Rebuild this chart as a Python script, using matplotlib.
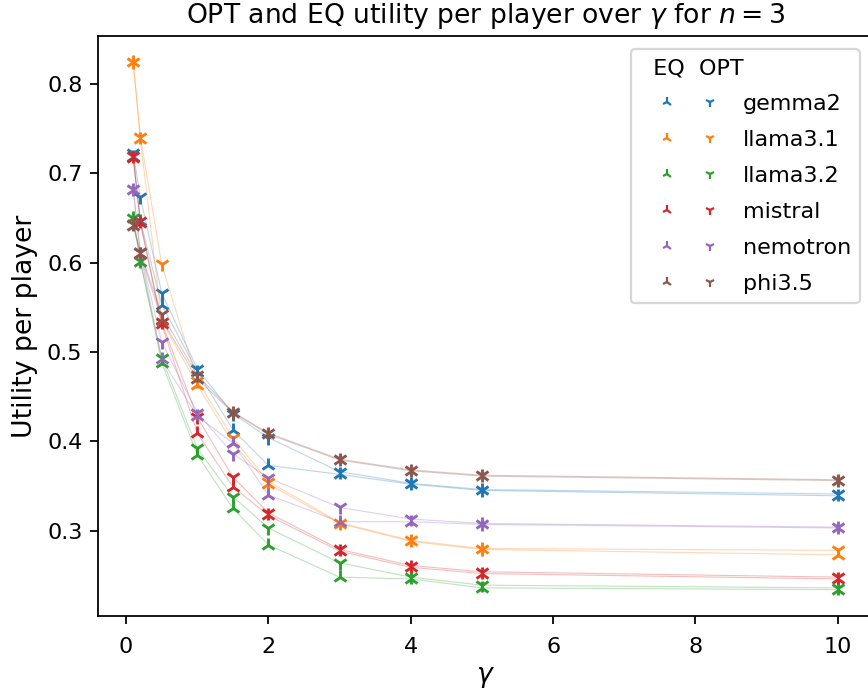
import numpy as np
import matplotlib
matplotlib.use("Agg")
import matplotlib.pyplot as plt
from matplotlib.lines import Line2D
from matplotlib.legend_handler import HandlerTuple

gammas = [0.1, 0.2, 0.5, 1, 1.5, 2, 3, 4, 5, 10]
models = ["gemma2", "llama3.1", "llama3.2", "mistral", "nemotron", "phi3.5"]

opt = {
    "gemma2":   [0.723, 0.673, 0.566, 0.481, 0.431, 0.404, 0.366, 0.353, 0.346, 0.341],
    "llama3.1": [0.824, 0.741, 0.598, 0.468, 0.404, 0.355, 0.309, 0.289, 0.280, 0.278],
    "llama3.2": [0.650, 0.602, 0.493, 0.392, 0.338, 0.303, 0.264, 0.248, 0.239, 0.236],
    "mistral":  [0.719, 0.646, 0.533, 0.427, 0.360, 0.320, 0.279, 0.261, 0.254, 0.248],
    "nemotron": [0.682, 0.612, 0.511, 0.432, 0.386, 0.359, 0.326, 0.313, 0.308, 0.304],
    "phi3.5":   [0.643, 0.612, 0.542, 0.474, 0.433, 0.409, 0.380, 0.368, 0.362, 0.357],
}
eq = {
    "gemma2":   [0.718, 0.647, 0.553, 0.478, 0.413, 0.373, 0.363, 0.352, 0.345, 0.339],
    "llama3.1": [0.824, 0.738, 0.535, 0.463, 0.398, 0.352, 0.308, 0.288, 0.279, 0.273],
    "llama3.2": [0.650, 0.601, 0.488, 0.385, 0.325, 0.284, 0.248, 0.246, 0.236, 0.234],
    "mistral":  [0.717, 0.644, 0.531, 0.409, 0.349, 0.317, 0.277, 0.259, 0.252, 0.246],
    "nemotron": [0.681, 0.610, 0.492, 0.428, 0.398, 0.340, 0.310, 0.310, 0.307, 0.303],
    "phi3.5":   [0.641, 0.610, 0.536, 0.470, 0.432, 0.408, 0.379, 0.367, 0.361, 0.356],
}

colors = plt.rcParams['axes.prop_cycle'].by_key()['color']

fig = plt.figure(figsize=(868/160, 690/160), dpi=160)
ax = fig.add_axes([98/868, 1-616/690, 775/868, 580/690])

handles = []
for i, m in enumerate(models):
    c = colors[i]
    ax.plot(gammas, eq[m], color=c, lw=0.5, alpha=0.3)
    ax.plot(gammas, opt[m], color=c, lw=0.5, alpha=0.3)
    ax.plot(gammas, eq[m], ls='none', marker='2', color=c, ms=6.5, mew=1.3)
    ax.plot(gammas, opt[m], ls='none', marker='1', color=c, ms=6.5, mew=1.3)
    h_eq = Line2D([], [], ls='none', marker='2', color=c, ms=4.5, mew=1)
    h_opt = Line2D([], [], ls='none', marker='1', color=c, ms=4.5, mew=1)
    handles.append((h_eq, h_opt))

# EQ / OPT marker columns under the legend title
ax.legend(handles, models, handler_map={tuple: HandlerTuple(ndivide=None, pad=-0.59)},
          title="  EQ  OPT", alignment='left', handlelength=4.46, handletextpad=0.18,
          labelspacing=0.72, borderaxespad=0.6, loc='upper right')

ax.tick_params(axis='x', pad=6)
ax.set_xlabel(r'$\gamma$', fontsize=12, labelpad=3)
ax.set_ylabel('Utility per player', fontsize=12)
ax.set_title(r'OPT and EQ utility per player over $\gamma$ for $n=3$', fontsize=12)

fig.savefig("out.png", dpi=160)
